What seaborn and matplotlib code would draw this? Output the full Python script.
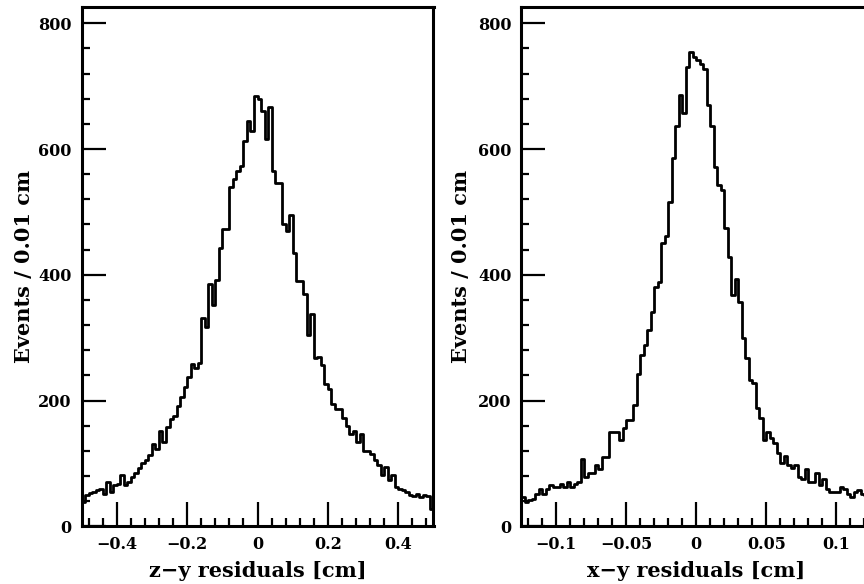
import numpy as np
import pandas as pd
import matplotlib
matplotlib.use("Agg")
import matplotlib.pyplot as plt
import seaborn as sns
from matplotlib.ticker import MultipleLocator, FixedLocator, FixedFormatter

# ---------------- data ----------------
# left panel: z-y residuals, 100 bins of 0.01 cm from -0.5 to 0.5
zy_range = (-0.5, 0.5)
zy_counts = [39, 50, 53, 55, 58, 60, 52, 70, 54, 65, 68, 81, 66, 70, 78, 84, 92, 100, 105, 113,
             131, 123, 152, 134, 158, 171, 176, 192, 205, 221, 237, 258, 251, 259,
             332, 317, 386, 352, 392, 443, 473, 473, 540, 552, 565, 573, 613, 644, 629, 684,
             679, 660, 616, 667, 565, 546, 546, 481, 470, 495, 435, 390, 390, 370, 305, 337, 268,
             270, 256, 226, 218, 194, 186, 186, 173, 160, 147, 152, 134, 147, 120, 120, 115, 105,
             97, 82, 95, 73, 82, 63, 60, 57, 54, 50, 48, 52, 46, 50, 48, 28]
# right panel: x-y residuals, 100 bins from -0.125 to 0.125
xy_range = (-0.125, 0.125)
xy_counts = [47, 39, 42, 44, 52, 60, 52, 60, 65, 63, 63, 68, 63, 71, 63, 68, 70, 107, 79, 84,
             84, 97, 91, 111, 111, 150, 150, 150, 137, 156, 169, 169,
             193, 243, 272, 288, 312, 341, 381, 389, 450, 462, 516, 585, 636, 686, 657, 731,
             755, 747, 741, 736, 728, 670, 636, 572, 543, 535, 474, 429,
             368, 393, 357, 299, 267, 233, 228, 188, 172, 138, 150, 140, 132, 116, 100, 112,
             97, 92, 97, 79, 76, 91, 71, 70, 85, 65, 76, 60, 55, 55, 54, 62, 60, 52, 47, 55,
             57, 52, 50, 50]

zy_ticks = [-0.4, -0.2, 0, 0.2, 0.4]
zy_ticklabels = ["\u22120.4", "\u22120.2", "0", "0.2", "0.4"]
xy_ticks = [-0.1, -0.05, 0, 0.05, 0.1]
xy_ticklabels = ["\u22120.1", "\u22120.05", "0", "0.05", "0.1"]
y_ticks = [0, 200, 400, 600, 800]
y_ticklabels = ["0", "200", "400", "600", "800"]

xlabels = ["z\u2212y residuals [cm]", "x\u2212y residuals [cm]"]
ylabel = "Events / 0.01 cm"

# ---------------- figure ----------------
sns.set_style("white")
plt.rcParams["font.family"] = ["DejaVu Serif"]
plt.rcParams["font.weight"] = "bold"
for k in ["text.color", "axes.labelcolor", "xtick.color", "ytick.color", "axes.edgecolor"]:
    plt.rcParams[k] = "black"

W, H = 864, 584
fig = plt.figure(figsize=(W / 100, H / 100), dpi=100)

ax_l = fig.add_axes([81.5 / W, (H - 526.3) / H, 352 / W, 519.8 / H])
ax_r = fig.add_axes([521.3 / W, (H - 526.3) / H, 350 / W, 519.8 / H])

panels = [
    (ax_l, zy_range, zy_counts, zy_ticks, zy_ticklabels, 0.04, xlabels[0], 3),
    (ax_r, xy_range, xy_counts, xy_ticks, xy_ticklabels, 0.01, xlabels[1], 5),
]

for ax, rng, counts, xt, xtl, xminor, xl, ypad in panels:
    n = len(counts)
    edges = np.linspace(rng[0], rng[1], n + 1)
    centers = 0.5 * (edges[:-1] + edges[1:])
    df = pd.DataFrame({"x": centers, "w": np.asarray(counts, dtype=float)})
    sns.histplot(data=df, x="x", weights="w", bins=n, binrange=rng, element="step",
                 fill=False, color="black", linewidth=2.0, ax=ax)
    ax.set_xlim(rng)
    ax.set_ylim(0, 826.7)
    ax.xaxis.set_major_locator(FixedLocator(xt))
    ax.xaxis.set_major_formatter(FixedFormatter(xtl))
    ax.xaxis.set_minor_locator(MultipleLocator(xminor))
    ax.yaxis.set_major_locator(FixedLocator(y_ticks))
    ax.yaxis.set_major_formatter(FixedFormatter(y_ticklabels))
    ax.yaxis.set_minor_locator(MultipleLocator(40))
    ax.tick_params(which="major", direction="in", length=17, width=1.6,
                   labelsize=11.5, pad=7, bottom=True, left=True, top=False, right=False,
                   color="black", labelcolor="black")
    ax.tick_params(which="minor", direction="in", length=6, width=1.6,
                   bottom=True, left=True, top=False, right=False, color="black")
    for lab in ax.get_xticklabels() + ax.get_yticklabels():
        lab.set_fontweight("bold")
    for sp in ax.spines.values():
        sp.set_linewidth(2.2)
        sp.set_color("black")
        sp.set_visible(True)
    ax.set_xlabel(xl, fontsize=15, fontweight="bold", labelpad=6, color="black")
    ax.set_ylabel(ylabel, fontsize=15, fontweight="bold", labelpad=ypad, color="black")
    ax.grid(False)

fig.savefig("out.png", dpi=100)
